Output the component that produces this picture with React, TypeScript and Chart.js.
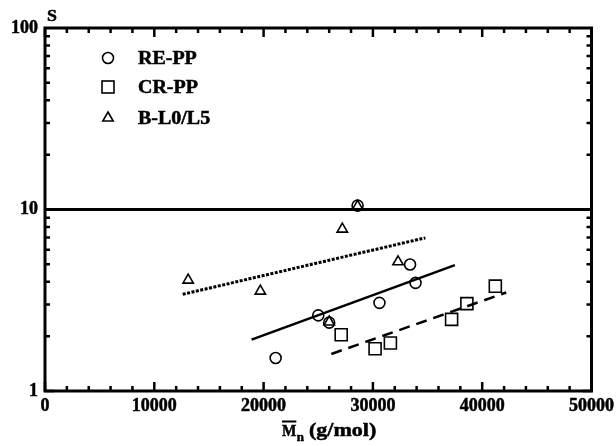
import React, { useEffect, useRef } from "react";
import { Chart, registerables } from "chart.js";
Chart.register(...registerables);

// RE-PP (circles)
const reppMn = [21100, 25000, 26000, 30600, 33400, 33900, 28600];
const reppS = [1.52, 2.61, 2.38, 3.06, 4.98, 3.94, 10.5];
// CR-PP (squares)
const crppMn = [27100, 30200, 31600, 37200, 38600, 41200];
const crppS = [2.04, 1.71, 1.84, 2.48, 3.03, 3.78];
// B-L0/L5 (triangles)
const blMn = [13100, 19700, 26000, 27200, 32300, 28600];
const blS = [4.08, 3.55, 2.4, 7.8, 5.15, 10.4];
// fit lines
const reFitMn = [18900, 37500];
const reFitS = [1.92, 4.94];
const crFitMn = [26200, 42200];
const crFitS = [1.6, 3.49];
const blFitMn = [12600, 34800];
const blFitS = [3.41, 6.98];
// reference line S = 10
const refMn = [0, 50000];
const refS = [10, 10];

const xTicks = [0, 10000, 20000, 30000, 40000, 50000];
const yTicks = [1, 10, 100];
const seriesNames = ["RE-PP", "CR-PP", "B-L0/L5"];

const FONT = "'Liberation Serif', 'Times New Roman', serif";

const pts = (xs: number[], ys: number[]) => xs.map((x, i) => ({ x, y: ys[i] }));

function wideText(ctx: any, text: string, x: number, y: number, sx: number) {
  ctx.save();
  ctx.translate(x, y);
  ctx.scale(sx, 1);
  ctx.fillText(text, 0, 0);
  ctx.lineWidth = 0.5;
  ctx.strokeText(text, 0, 0);
  ctx.restore();
}

const framePlugin = {
  id: "frame",
  afterDraw(chart: any) {
    const { ctx, chartArea: a, scales } = chart;
    const xs = scales.x;
    const ys = scales.y;
    ctx.save();
    ctx.setLineDash([]);
    ctx.strokeStyle = "#000";
    ctx.fillStyle = "#000";
    // ticks
    ctx.lineWidth = 2.5;
    ctx.lineCap = "butt";
    ctx.beginPath();
    for (let v = 0; v <= 50000; v += 2000) {
      const px = xs.getPixelForValue(v);
      const len = v % 10000 === 0 ? 9 : 5;
      ctx.moveTo(px, a.bottom);
      ctx.lineTo(px, a.bottom - len);
      ctx.moveTo(px, a.top);
      ctx.lineTo(px, a.top + len);
    }
    for (const d of [1, 10]) {
      for (let k = 1; k <= 9; k++) {
        const py = ys.getPixelForValue(k * d);
        const len = k === 1 ? 9 : 5;
        ctx.moveTo(a.left, py);
        ctx.lineTo(a.left + len, py);
        ctx.moveTo(a.right, py);
        ctx.lineTo(a.right - len, py);
      }
    }
    ctx.stroke();
    // frame
    ctx.lineWidth = 3;
    ctx.strokeRect(a.left, a.top, a.right - a.left, a.bottom - a.top);

    // S label
    ctx.font = `bold 17px ${FONT}`;
    ctx.textAlign = "left";
    ctx.textBaseline = "alphabetic";
    wideText(ctx, "S", a.left + 2, a.top - 7, 1.05);

    // x-axis title: M̄n (g/mol)
    const base = a.bottom + 45;
    const x0 = a.left + 237;
    ctx.font = `bold 16px ${FONT}`;
    const wM = ctx.measureText("M").width;
    wideText(ctx, "M", x0, base, 0.95);
    ctx.lineWidth = 2;
    ctx.beginPath();
    ctx.moveTo(x0, base - 14.5);
    ctx.lineTo(x0 + wM * 0.95, base - 14.5);
    ctx.stroke();
    ctx.font = `bold 13px ${FONT}`;
    wideText(ctx, "n", x0 + wM * 0.95 + 0.5, base + 5, 1.0);
    ctx.font = `bold 19px ${FONT}`;
    wideText(ctx, "(g/mol)", x0 + 27, base, 1.16);

    // legend
    const lx = a.left + 63;
    const rows = [a.top + 30, a.top + 59, a.top + 90];
    ctx.lineWidth = 1.6;
    ctx.beginPath();
    ctx.arc(lx, rows[0], 5.5, 0, Math.PI * 2);
    ctx.stroke();
    ctx.strokeRect(lx - 6, rows[1] - 6, 12, 12);
    const r = 6;
    ctx.beginPath();
    ctx.moveTo(lx, rows[2] - r);
    ctx.lineTo(lx + r * Math.sin((2 * Math.PI) / 3), rows[2] - r * Math.cos((2 * Math.PI) / 3));
    ctx.lineTo(lx + r * Math.sin((4 * Math.PI) / 3), rows[2] - r * Math.cos((4 * Math.PI) / 3));
    ctx.closePath();
    ctx.stroke();
    ctx.font = `bold 18px ${FONT}`;
    ctx.textBaseline = "middle";
    seriesNames.forEach((n, i) => wideText(ctx, n, a.left + 93, rows[i] + 1, 1.11));
    ctx.restore();
  },
};

export default function App() {
  const ref = useRef<HTMLCanvasElement>(null);
  useEffect(() => {
    if (!ref.current) return;
    const chart = new Chart(ref.current, {
      type: "scatter",
      data: {
        datasets: [
          {
            type: "line",
            label: "S=10",
            data: pts(refMn, refS),
            borderColor: "#000",
            borderWidth: 3,
            pointRadius: 0,
            fill: false,
          },
          {
            type: "line",
            label: "RE-PP fit",
            data: pts(reFitMn, reFitS),
            borderColor: "#000",
            borderWidth: 2.5,
            pointRadius: 0,
            fill: false,
          },
          {
            type: "line",
            label: "CR-PP fit",
            data: pts(crFitMn, crFitS),
            borderColor: "#000",
            borderWidth: 2.5,
            borderDash: [11, 7],
            pointRadius: 0,
            fill: false,
          },
          {
            type: "line",
            label: "B-L0/L5 fit",
            data: pts(blFitMn, blFitS),
            borderColor: "#000",
            borderWidth: 3,
            borderDash: [3, 1.5],
            pointRadius: 0,
            fill: false,
          },
          {
            label: seriesNames[0],
            data: pts(reppMn, reppS),
            pointStyle: "circle",
            pointRadius: 5.5,
            borderColor: "#000",
            backgroundColor: "rgba(0,0,0,0)",
            borderWidth: 1.6,
          },
          {
            label: seriesNames[1],
            data: pts(crppMn, crppS),
            pointStyle: "rect",
            pointRadius: 8.5,
            borderColor: "#000",
            backgroundColor: "rgba(0,0,0,0)",
            borderWidth: 1.6,
          },
          {
            label: seriesNames[2],
            data: pts(blMn, blS),
            pointStyle: "triangle",
            pointRadius: 6,
            borderColor: "#000",
            backgroundColor: "rgba(0,0,0,0)",
            borderWidth: 1.6,
          },
        ],
      },
      options: {
        animation: false,
        responsive: true,
        maintainAspectRatio: false,
        layout: { padding: { left: 0, top: 28, right: 24.5, bottom: 0 } },
        plugins: { legend: { display: false }, tooltip: { enabled: false } },
        scales: {
          x: {
            type: "linear",
            min: 0,
            max: 50000,
            afterBuildTicks: (s: any) => {
              s.ticks = xTicks.map((v) => ({ value: v }));
            },
            afterFit: (s: any) => {
              s.height = 55;
              s.paddingLeft = 0;
              s.paddingRight = 0;
            },
            grid: { display: false, drawTicks: false },
            border: { display: false },
            ticks: {
              color: "#000",
              font: { family: FONT, size: 18, weight: "bold" },
              padding: 5,
              maxRotation: 0,
              textStrokeColor: "#000",
              textStrokeWidth: 0.5,
              callback: (v: any) => String(v),
            },
          },
          y: {
            type: "logarithmic",
            min: 1,
            max: 100,
            afterBuildTicks: (s: any) => {
              s.ticks = yTicks.map((v) => ({ value: v }));
            },
            afterFit: (s: any) => {
              s.width = 45;
              s.paddingTop = 0;
              s.paddingBottom = 0;
            },
            grid: { display: false, drawTicks: false },
            border: { display: false },
            ticks: {
              color: "#000",
              font: { family: FONT, size: 18, weight: "bold" },
              padding: 7,
              textStrokeColor: "#000",
              textStrokeWidth: 0.5,
              callback: (v: any) => String(v),
            },
          },
        },
      },
      plugins: [framePlugin],
    });
    return () => chart.destroy();
  }, []);
  return (
    <div style={{ position: "absolute", left: 0, top: 0, width: 616, height: 446, background: "#fff" }}>
      <canvas ref={ref} />
    </div>
  );
}
